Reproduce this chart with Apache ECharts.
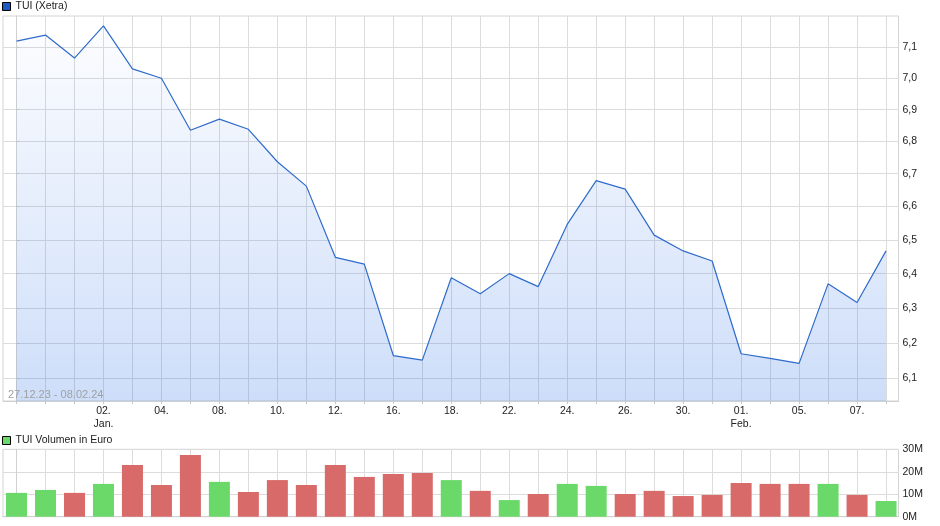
<!DOCTYPE html>
<html><head><meta charset="utf-8">
<script src="https://cdn.jsdelivr.net/npm/echarts@6/dist/echarts.min.js"></script>
<style>html,body{margin:0;padding:0;background:#fff}#c{width:940px;height:526px}</style>
</head><body><div id="c"></div>
<script>
// Trading days 27.12.23 - 08.02.24 (Xetra)
const dates = ['27.12.23','28.12.23','29.12.23','02.01.24','03.01.24','04.01.24','05.01.24','08.01.24','09.01.24','10.01.24','11.01.24','12.01.24','15.01.24','16.01.24','17.01.24','18.01.24','19.01.24','22.01.24','23.01.24','24.01.24','25.01.24','26.01.24','29.01.24','30.01.24','31.01.24','01.02.24','02.02.24','05.02.24','06.02.24','07.02.24','08.02.24'];
const price = [7.12, 7.14, 7.065, 7.17, 7.03, 7.00, 6.835, 6.87, 6.838, 6.737, 6.662, 6.448, 6.428, 6.164, 6.151, 6.388, 6.341, 6.400, 6.362, 6.546, 6.679, 6.653, 6.514, 6.467, 6.437, 6.169, 6.156, 6.142, 6.370, 6.316, 6.467];
const volume = [10.6e6, 11.9e6, 10.6e6, 14.6e6, 23.0e6, 14.1e6, 27.5e6, 15.5e6, 11.0e6, 16.3e6, 14.1e6, 23.0e6, 17.7e6, 19.0e6, 19.5e6, 16.3e6, 11.5e6, 7.4e6, 10.1e6, 14.6e6, 13.7e6, 10.1e6, 11.5e6, 9.2e6, 9.7e6, 15.0e6, 14.6e6, 14.6e6, 14.6e6, 9.7e6, 7.0e6];
const xLabelIndex = [3, 5, 7, 9, 11, 13, 15, 17, 19, 21, 23, 25, 27, 29];
const xLabelText = ['02.\nJan.', '04.', '08.', '10.', '12.', '16.', '18.', '22.', '24.', '26.', '30.', '01.\nFeb.', '05.', '07.'];
const priceTicks = [6.1, 6.2, 6.3, 6.4, 6.5, 6.6, 6.7, 6.8, 6.9, 7.0, 7.1];
const volumeTicks = [0, 10e6, 20e6, 30e6];
const rangeText = '27.12.23 - 08.02.24';

const FONT = '"Liberation Sans", Arial, sans-serif';
const GRID = '#dcdcdc';
const allIdx = dates.map((d, i) => i);
const xMin = -0.466, xMax = 30.43;

const chart = echarts.init(document.getElementById('c'), null, {renderer: 'canvas'});
chart.setOption({
  animation: false,
  backgroundColor: '#fff',
  textStyle: {fontFamily: FONT},
  legend: [
    {left: 2, top: 1, padding: 0, itemWidth: 8, itemHeight: 8, icon: 'rect', data: ['TUI (Xetra)'],
     itemStyle: {color: '#1a5cc4', borderColor: '#000', borderWidth: 1},
     textStyle: {fontSize: 10.5, color: '#222', fontFamily: FONT}, selectedMode: false},
    {left: 2, top: 435, padding: 0, itemWidth: 8, itemHeight: 8, icon: 'rect', data: ['TUI Volumen in Euro'],
     itemStyle: {color: '#6ad96a', borderColor: '#000', borderWidth: 1},
     textStyle: {fontSize: 10.5, color: '#222', fontFamily: FONT}, selectedMode: false}
  ],
  grid: [
    {left: 3, top: 16, right: 41.5, height: 385, show: true, borderColor: '#d4d4d4', borderWidth: 1, backgroundColor: 'transparent', containLabel: false, outerBoundsMode: 'none'},
    {left: 3, top: 449.3, right: 41.5, height: 67.4, show: true, borderColor: '#d4d4d4', borderWidth: 1, backgroundColor: 'transparent', containLabel: false, outerBoundsMode: 'none'}
  ],
  xAxis: [
    {type: 'value', gridIndex: 0, min: xMin, max: xMax,
     axisLine: {show: true, lineStyle: {color: '#d0d0d0'}},
     axisTick: {show: true, length: 3, lineStyle: {color: '#c8c8c8'}, customValues: allIdx},
     splitLine: {show: true, lineStyle: {color: GRID, width: 1}},
     axisLabel: {show: true, customValues: xLabelIndex, margin: 4, fontSize: 10.5, color: '#222', lineHeight: 13, fontFamily: FONT,
       formatter: v => { const k = xLabelIndex.indexOf(Math.round(v)); return k >= 0 ? xLabelText[k] : ''; }}},
    {type: 'value', gridIndex: 1, min: xMin, max: xMax,
     axisLine: {show: true, lineStyle: {color: '#d0d0d0'}},
     axisTick: {show: false, customValues: allIdx},
     splitLine: {show: true, lineStyle: {color: GRID, width: 1}},
     axisLabel: {show: false}}
  ],
  yAxis: [
    {type: 'log', logBase: 10, gridIndex: 0, position: 'right', min: 6.0368, max: 7.2027,
     axisLine: {show: true, lineStyle: {color: '#d0d0d0'}},
     axisTick: {show: true, length: 3, lineStyle: {color: '#c8c8c8'}, customValues: priceTicks},
     splitLine: {show: true, lineStyle: {color: GRID, width: 1}},
     axisLabel: {show: true, customValues: priceTicks, margin: 4, fontSize: 10.5, color: '#222', fontFamily: FONT,
       formatter: v => Number(v).toFixed(1).replace('.', ',')}},
    {type: 'value', gridIndex: 1, position: 'right', min: 0, max: 30e6, interval: 10e6,
     axisLine: {show: true, lineStyle: {color: '#d0d0d0'}},
     axisTick: {show: false},
     splitLine: {show: true, lineStyle: {color: GRID, width: 1}},
     axisLabel: {show: true, margin: 4, fontSize: 10.5, color: '#222', fontFamily: FONT,
       formatter: v => Math.round(v / 1e6) + 'M'}}
  ],
  graphic: [
    {type: 'text', left: 8, top: 389, z: 100, silent: true,
     style: {text: rangeText, fill: '#a0a0a0', font: '11px ' + FONT}}
  ],
  series: [
    {name: 'TUI (Xetra)', type: 'line', xAxisIndex: 0, yAxisIndex: 0,
     data: price.map((v, i) => [i, v]), symbol: 'none', smooth: false,
     lineStyle: {color: '#2f6bcc', width: 1.2},
     itemStyle: {color: '#1a5cc4'},
     areaStyle: {origin: 'start', color: new echarts.graphic.LinearGradient(0, 0, 0, 1, [
       {offset: 0, color: 'rgba(40,110,230,0.02)'},
       {offset: 1, color: 'rgba(40,110,230,0.33)'}])}},
    {name: 'TUI Volumen in Euro', type: 'bar', xAxisIndex: 1, yAxisIndex: 1, barWidth: 21,
     itemStyle: {color: '#6ad96a'},
     data: volume.map((v, i) => ({value: [i, v],
       itemStyle: {color: (i === 0 || price[i] >= price[i - 1]) ? '#6ad96a' : '#d96a6a'}}))}
  ]
});
</script>
</body></html>
